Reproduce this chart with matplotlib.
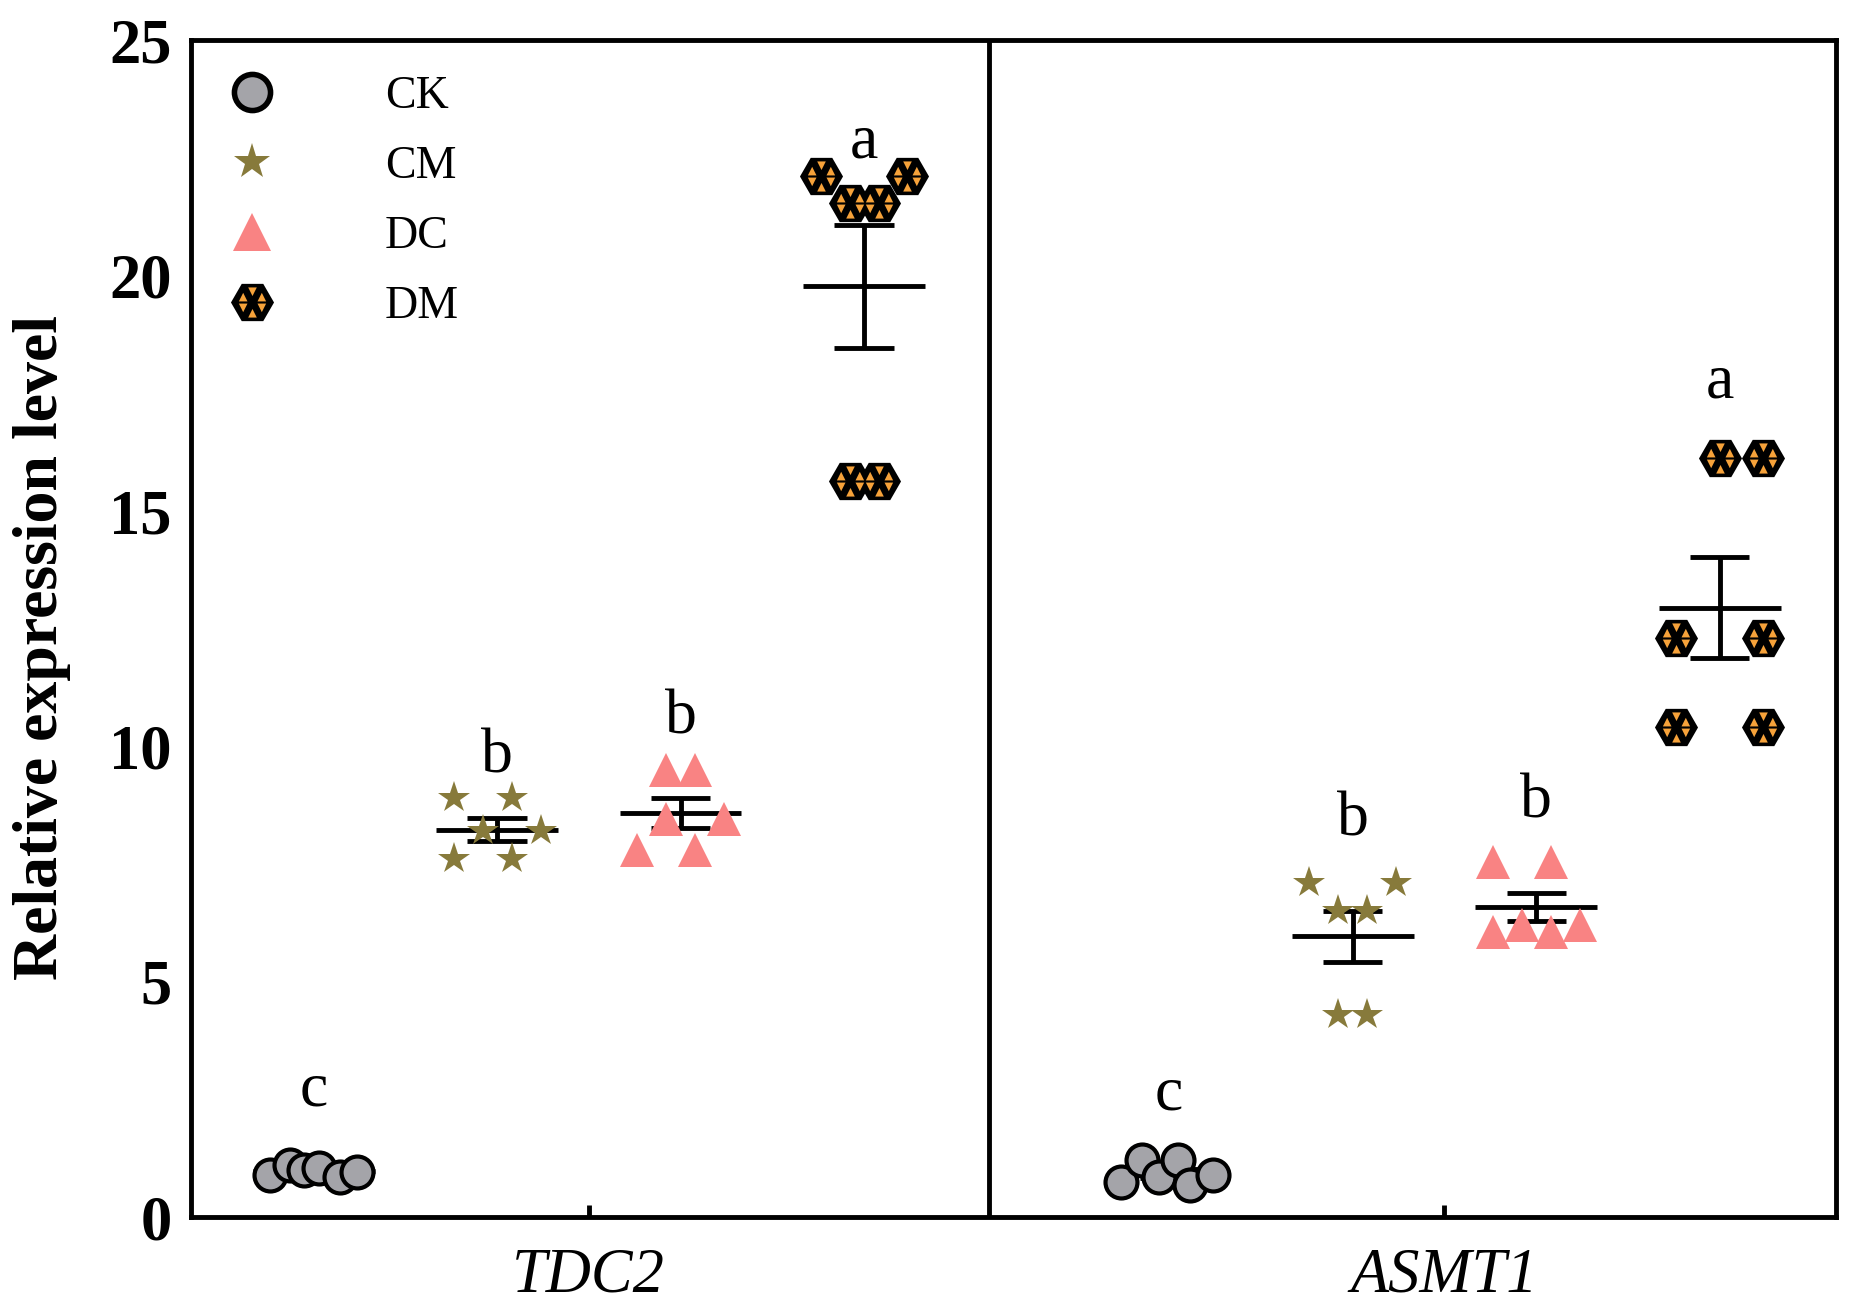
import numpy as np
import matplotlib.pyplot as plt
from matplotlib.path import Path
from matplotlib.lines import Line2D
from matplotlib.legend_handler import HandlerTuple

plt.rcParams["font.family"] = ["Liberation Serif", "DejaVu Serif"]

genes = ["TDC2", "ASMT1"]
treatments = ["CK", "CM", "DC", "DM"]

# six replicates per treatment
tdc2_values = {
    "CK": [0.89, 1.10, 1.00, 1.04, 0.85, 0.96],
    "CM": [8.90, 8.90, 8.20, 8.20, 7.60, 7.60],
    "DC": [9.50, 9.50, 8.45, 8.45, 7.80, 7.80],
    "DM": [22.13, 22.13, 21.54, 21.54, 15.65, 15.65],
}
asmt1_values = {
    "CK": [0.74, 1.21, 0.85, 1.21, 0.68, 0.89],
    "CM": [7.10, 7.10, 6.50, 6.50, 4.30, 4.30],
    "DC": [7.54, 7.54, 6.05, 6.20, 6.05, 6.20],
    "DM": [16.14, 16.14, 12.30, 12.30, 10.41, 10.41],
}
# horizontal scatter of the replicates (in point-widths)
tdc2_jitter = {
    "CK": [-1.5, -0.8, -0.35, 0.2, 0.9, 1.5],
    "CM": [-1.5, 0.5, -0.5, 1.5, -1.5, 0.5],
    "DC": [-0.5, 0.5, -0.5, 1.5, -1.5, 0.5],
    "DM": [-1.5, 1.5, -0.5, 0.5, -0.5, 0.5],
}
asmt1_jitter = {
    "CK": [-1.67, -0.94, -0.37, 0.29, 0.73, 1.51],
    "CM": [-1.5, 1.5, -0.5, 0.5, -0.5, 0.5],
    "DC": [-1.5, 0.5, -1.5, -0.5, 0.5, 1.5],
    "DM": [0.0, 1.5, -1.5, 1.5, -1.5, 1.5],
}
tdc2_letters = ["c", "b", "b", "a"]
tdc2_letter_y = [2.38, 9.45, 10.27, 22.51]
asmt1_letters = ["c", "b", "b", "a"]
asmt1_letter_y = [2.28, 8.10, 8.50, 17.41]

gene_data = [(tdc2_values, tdc2_jitter, tdc2_letters, tdc2_letter_y),
             (asmt1_values, asmt1_jitter, asmt1_letters, asmt1_letter_y)]

gene_base = [0.745, 5.945]
spacing = 1.115
step = 0.176
divider_x = 4.85


def dm_pattern():
    r, h = 0.5, 0.2
    verts, codes = [], []
    for ang, up in [(90, False), (30, True), (150, True),
                    (-30, False), (210, False), (-90, True)]:
        cx, cy = r * np.cos(np.radians(ang)), r * np.sin(np.radians(ang))
        s = 1 if up else -1
        verts += [(cx, cy + s * h), (cx - h, cy - s * h), (cx + h, cy - s * h), (0, 0)]
        codes += [Path.MOVETO, Path.LINETO, Path.LINETO, Path.CLOSEPOLY]
    return Path(verts, codes), r + h


pattern, pat_ext = dm_pattern()

style = {
    "CK": dict(marker="o", ms=23, mfc="#a4a4a9", mec="black", mew=3),
    "CM": dict(marker="*", ms=24, mfc="#877a3b", mec="#877a3b", mew=0),
    "DC": dict(marker="^", ms=24.5, mfc="#f98383", mec="#f98383", mew=0),
    "DM": dict(marker="H", ms=31, mfc="black", mec="black", mew=0),
}
dm_over = dict(marker=pattern, ms=31 * pat_ext, mfc="#f6a23a", mec="none", mew=0)

fig = plt.figure(figsize=(18.55, 13.06), dpi=100)
ax = fig.add_axes([0.103, 0.068, 0.887, 0.901])

for g, (vals, jit, letters, letter_y) in enumerate(gene_data):
    for i, t in enumerate(treatments):
        xc = gene_base[g] + i * spacing
        y = np.array(vals[t])
        x = xc + np.array(jit[t]) * step
        m = y.mean()
        se = y.std(ddof=1) / np.sqrt(len(y))
        ax.hlines(m, xc - 0.37, xc + 0.37, color="black", lw=3.5, zorder=2)
        ax.hlines([m - se, m + se], xc - 0.18, xc + 0.18, color="black", lw=3.5, zorder=2)
        ax.vlines(xc, m - se, m + se, color="black", lw=3.5, zorder=2)
        ax.plot(x, y, ls="none", zorder=3, **style[t])
        if t == "DM":
            ax.plot(x, y, ls="none", zorder=4, **dm_over)
        ax.text(xc, letter_y[i], letters[i], ha="center", va="baseline", fontsize=46)

ax.axvline(divider_x, color="black", lw=3.5)

ax.set_xlim(0, 10)
ax.set_ylim(0, 25)
ax.set_yticks(range(0, 26, 5))
ax.set_yticklabels([str(v) for v in range(0, 26, 5)], fontsize=45, fontweight="bold")
ax.set_xticks([b + 1.5 * spacing for b in gene_base])
ax.set_xticklabels(genes, fontsize=45, fontstyle="italic")
ax.tick_params(axis="y", length=0, pad=14)
ax.tick_params(axis="x", direction="in", length=9, width=3.5, pad=22)
for sp in ax.spines.values():
    sp.set_linewidth(3.5)
ax.set_ylabel("Relative expression level", fontsize=46, fontweight="bold")
ax.yaxis.set_label_coords(-0.073, 0.484)

# legend proxies (drawn a little larger than in the plot)
h_ck = Line2D([], [], ls="none", marker="o", ms=26, mfc="#a4a4a9", mec="black", mew=4)
h_cm = Line2D([], [], ls="none", marker="*", ms=27, mfc="#877a3b", mec="#877a3b", mew=0)
h_dc = Line2D([], [], ls="none", marker="^", ms=27, mfc="#f98383", mec="#f98383", mew=0)
h_dm = (Line2D([], [], ls="none", **style["DM"]), Line2D([], [], ls="none", **dm_over))
ax.legend([h_ck, h_cm, h_dc, h_dm], treatments, loc="upper left",
          bbox_to_anchor=(229 / 1855, 1 - 76 / 1306), bbox_transform=fig.transFigure,
          frameon=False, fontsize=33, handlelength=1.0, handletextpad=2.4,
          labelspacing=0.6, borderpad=0, borderaxespad=0,
          handler_map={tuple: HandlerTuple(ndivide=1, pad=0)})

fig.savefig("out.png", dpi=100)
